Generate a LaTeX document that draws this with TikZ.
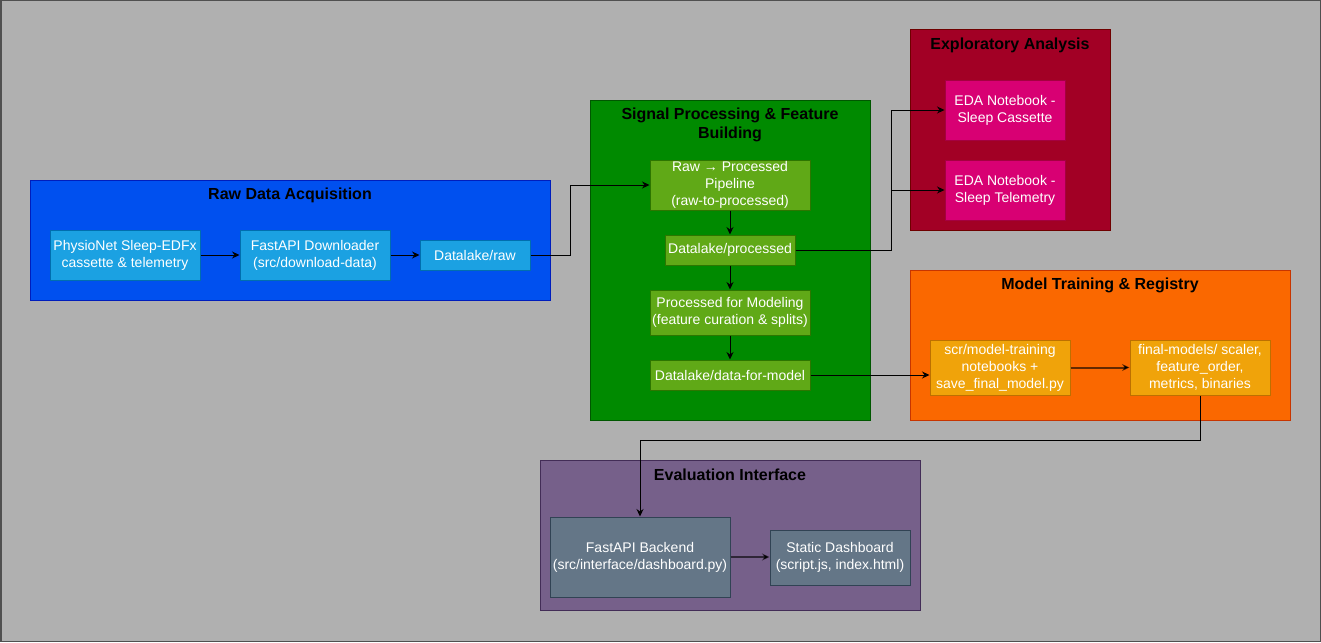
\documentclass[tikz,border=0pt]{standalone}
\usepackage{fontspec}
\setmainfont{Liberation Sans}
\usetikzlibrary{arrows.meta}
\definecolor{bgc}{HTML}{B0B0B0}
\definecolor{bordc}{HTML}{505050}
\definecolor{blueG}{HTML}{0050EF}\definecolor{blueGs}{HTML}{001DBC}
\definecolor{blueB}{HTML}{1BA1E2}\definecolor{blueBs}{HTML}{006EAF}
\definecolor{greenG}{HTML}{008A00}\definecolor{greenGs}{HTML}{005700}
\definecolor{greenB}{HTML}{60A917}\definecolor{greenBs}{HTML}{2D7600}
\definecolor{redG}{HTML}{A20025}\definecolor{redGs}{HTML}{6F0000}
\definecolor{pinkB}{HTML}{D80073}\definecolor{pinkBs}{HTML}{A50040}
\definecolor{orgG}{HTML}{FA6800}\definecolor{orgGs}{HTML}{C73500}
\definecolor{ambB}{HTML}{F0A30A}\definecolor{ambBs}{HTML}{BD7000}
\definecolor{purG}{HTML}{76608A}\definecolor{purGs}{HTML}{432D57}
\definecolor{slaB}{HTML}{647687}\definecolor{slaBs}{HTML}{314354}
\tikzset{
  grp/.style={rectangle, inner sep=0pt, line width=1pt},
  ttl/.style={font=\fontsize{16}{18.5}\selectfont\bfseries, text=black, align=center, inner sep=0pt},
  bx/.style={rectangle, inner sep=0pt, line width=1pt, text=white, align=center,
    font=\fontsize{14}{17}\selectfont},
  arr/.style={draw=black, line width=1pt, -{Stealth[length=7.5pt,width=7pt,inset=2.5pt]}},
  arrthick/.style={draw=black, draw opacity=0.6, line width=2pt, -{Stealth[length=7.5pt,width=7pt,inset=2.5pt]}},
}
\begin{document}
\begin{tikzpicture}[x=1pt,y=-1pt]
\useasboundingbox (0,0) rectangle (1321,642);
\fill[bgc] (0,0) rectangle (1321,642);
\draw[bordc, line width=1.5pt] (0.75,0.75) rectangle (1320.25,641.25);

% groups
\node[grp, fill=blueG, draw=blueGs, minimum width=520pt, minimum height=120pt] (gRaw) at (290,240) {};
\node[ttl] (tRaw) at (290,195) {Raw Data Acquisition};

\node[grp, fill=greenG, draw=greenGs, minimum width=280pt, minimum height=320pt] (gSig) at (730,260) {};
\node[ttl] (tSig) at (730,125) {Signal Processing \& Feature\\Building};

\node[grp, fill=redG, draw=redGs, minimum width=200pt, minimum height=200pt] (gEda) at (1010,130) {};
\node[ttl] (tEda) at (1010,45) {Exploratory Analysis};

\node[grp, fill=orgG, draw=orgGs, minimum width=380pt, minimum height=150pt] (gMod) at (1100,345) {};
\node[ttl] (tMod) at (1100,285) {Model Training \& Registry};

\node[grp, fill=purG, draw=purGs, minimum width=380pt, minimum height=150pt] (gEval) at (730,535) {};
\node[ttl] (tEval) at (730,475) {Evaluation Interface};

% boxes
\node[bx, fill=blueB, draw=blueBs, minimum width=150pt, minimum height=50pt] (phys) at (125,255) {PhysioNet Sleep-EDFx\\cassette \& telemetry};
\node[bx, fill=blueB, draw=blueBs, minimum width=150pt, minimum height=50pt] (fdl) at (315,255) {FastAPI Downloader\\(src/download-data)};
\node[bx, fill=blueB, draw=blueBs, minimum width=110pt, minimum height=30pt] (raw) at (475,255) {Datalake/raw};

\node[bx, fill=greenB, draw=greenBs, minimum width=160pt, minimum height=50pt] (rtp) at (730,185) {Raw → Processed\\Pipeline\\(raw-to-processed)};
\node[bx, fill=greenB, draw=greenBs, minimum width=130pt, minimum height=30pt] (dproc) at (730,250) {Datalake/processed};
\node[bx, fill=greenB, draw=greenBs, minimum width=160pt, minimum height=45pt] (pfm) at (730,312.5) {Processed for Modeling\\(feature curation \& splits)};
\node[bx, fill=greenB, draw=greenBs, minimum width=160pt, minimum height=30pt] (dfm) at (730,375) {Datalake/data-for-model};

\node[bx, fill=pinkB, draw=pinkBs, minimum width=120pt, minimum height=60pt] (edac) at (1005,110) {EDA Notebook -\\Sleep Cassette};
\node[bx, fill=pinkB, draw=pinkBs, minimum width=120pt, minimum height=60pt] (edat) at (1005,190) {EDA Notebook -\\Sleep Telemetry};

\node[bx, fill=ambB, draw=ambBs, minimum width=140pt, minimum height=55pt] (smt) at (1000,367.5) {scr/model-training\\notebooks +\\save\_final\_model.py};
\node[bx, fill=ambB, draw=ambBs, minimum width=140pt, minimum height=55pt] (fm) at (1200,367.5) {final-models/ scaler,\\feature\_order,\\metrics, binaries};

\node[bx, fill=slaB, draw=slaBs, minimum width=180pt, minimum height=80pt] (fab) at (640,557) {FastAPI Backend\\(src/interface/dashboard.py)};
\node[bx, fill=slaB, draw=slaBs, minimum width=140pt, minimum height=55pt] (sd) at (840,557.5) {Static Dashboard\\(script.js, index.html)};

% connectors
\draw[arr] (phys.east) -- (fdl.west);
\draw[arr] (fdl.east) -- (fdl.east -| raw.west);
\draw[arr] (raw.east) -- ++(40,0) |- (rtp.west);
\draw[arr] (rtp.south) -- (dproc.north);
\draw[arr] (dproc.south) -- (pfm.north);
\draw[arr] (pfm.south) -- (dfm.north);
\draw[arr] (dproc.east) -- ++(96,0) |- (edac.west);
\draw[arr] (dproc.east) -- ++(96,0) |- (edat.west);
\draw[arr] (dfm.east) -- (dfm.east -| smt.west);
\draw[arrthick] (smt.east) -- (fm.west);
\draw[arr] (fm.south) -- ++(0,45) -| (fab.north);
\draw[arrthick] (fab.east) -- (fab.east -| sd.west);
\end{tikzpicture}
\end{document}
